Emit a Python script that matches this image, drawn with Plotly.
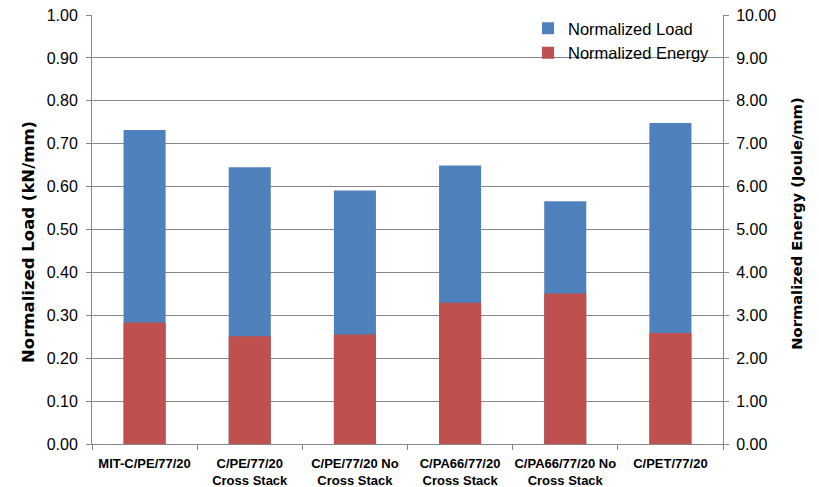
import plotly.graph_objects as go

categories = [
    "MIT-C/PE/77/20",
    "C/PE/77/20<br>Cross Stack",
    "C/PE/77/20 No<br>Cross Stack",
    "C/PA66/77/20<br>Cross Stack",
    "C/PA66/77/20 No<br>Cross Stack",
    "C/PET/77/20",
]
normalized_load = [0.732, 0.645, 0.591, 0.649, 0.566, 0.748]      # kN/mm (left axis)
normalized_energy = [2.83, 2.51, 2.55, 3.29, 3.51, 2.59]          # Joule/mm (right axis)

BLUE = "#4F81BD"
RED = "#C0504D"
GRID = "#878787"
FONT = "Liberation Sans, Arial, sans-serif"

fig = go.Figure()
fig.add_trace(go.Bar(
    x=categories, y=normalized_load, name="Normalized Load",
    marker=dict(color=BLUE, line=dict(width=0)), yaxis="y",
))
fig.add_trace(go.Bar(
    x=categories, y=normalized_energy, name="Normalized Energy",
    marker=dict(color=RED, line=dict(width=0)), yaxis="y2",
))

fig.update_layout(
    width=819, height=487,
    margin=dict(l=92, r=96, t=15, b=43, pad=0, autoexpand=False),
    paper_bgcolor="white", plot_bgcolor="white",
    barmode="overlay", bargap=0.6,
    font=dict(family=FONT, color="#000000", size=16),
    showlegend=True,
    legend=dict(
        x=0.691, y=1.009, xanchor="left", yanchor="top",
        bgcolor="rgba(0,0,0,0)", borderwidth=0,
        font=dict(family=FONT, size=16.5, color="#000000"),
        tracegroupgap=0, itemwidth=30,
    ),
    xaxis=dict(
        type="category", showgrid=False, automargin=False,
        showline=True, linecolor=GRID, linewidth=1,
        ticks="outside", ticklen=5, tickcolor=GRID, tickson="boundaries",
        tickangle=0, ticklabelstandoff=7,
        tickfont=dict(family=FONT, size=13, color="#000000", weight="bold"),
        range=[-0.5, 5.5],
    ),
    yaxis=dict(
        range=[0, 1.0], dtick=0.1, tick0=0, tickformat=".2f", automargin=False,
        showgrid=True, gridcolor=GRID, gridwidth=1,
        showline=True, linecolor=GRID, linewidth=1,
        ticks="outside", ticklen=5, tickcolor=GRID, ticklabelstandoff=5,
        tickfont=dict(family=FONT, size=16, color="#000000"),
        zeroline=False,
    ),
    yaxis2=dict(
        range=[0, 10.0], dtick=1, tick0=0, tickformat=".2f", automargin=False,
        overlaying="y", side="right",
        showgrid=False,
        showline=True, linecolor=GRID, linewidth=1,
        ticks="outside", ticklen=5, tickcolor=GRID, ticklabelstandoff=4,
        tickfont=dict(family=FONT, size=16, color="#000000"),
        zeroline=False,
    ),
    annotations=[
        dict(text="<b>Normalized Load (kN/mm)</b>", textangle=-90,
             xref="paper", yref="paper", x=-0.0998, y=0.471,
             xanchor="center", yanchor="middle", showarrow=False,
             font=dict(family="DejaVu Sans", size=16.5, color="#000000")),
        dict(text="<b>Normalized Energy (Joule/mm)</b>", textangle=-90,
             xref="paper", yref="paper", x=1.117, y=0.513,
             xanchor="center", yanchor="middle", showarrow=False,
             font=dict(family="DejaVu Sans", size=14.7, color="#000000")),
    ],
)

fig.write_html("out.html")
